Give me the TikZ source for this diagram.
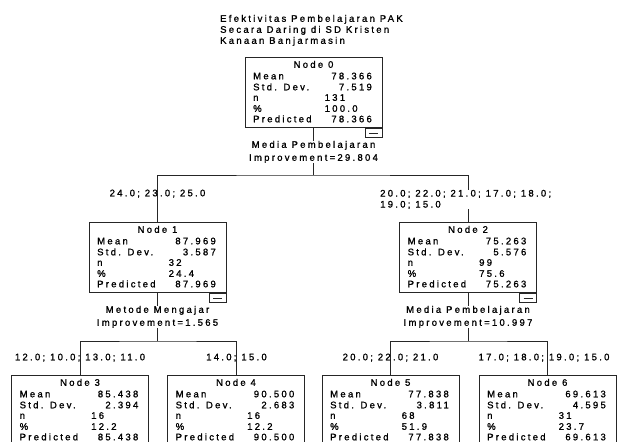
\documentclass[tikz,border=0pt]{standalone}
\usepackage{fontspec}
\setmainfont{Liberation Sans}[LetterSpace=24, FakeBold=1.2]
\usetikzlibrary{calc}
\tikzset{
  box/.style={draw=black!85, line width=1pt, minimum width=137pt, minimum height=70pt, inner sep=0pt, anchor=north},
  txt/.style={inner sep=0pt, text height=6.6pt, text depth=0pt, font=\fontsize{9.5}{11}\selectfont},
  lab/.style={inner sep=0pt, font=\fontsize{9.5}{13}\selectfont, align=center},
  minusbox/.style={draw=black!85, line width=0.8pt, minimum width=17pt, minimum height=9pt, inner sep=0pt, anchor=north east, fill=white},
  conn/.style={draw=black!85, line width=1pt},
}
\newcommand{\spssnode}[9]{%
  \node[box] (#1) at (#2,#3) {};
  \node[txt] at ($(#1.north)+(0,7.5)$) {#4};
  \node[txt, anchor=west] at ($(#1.north west)+(8.5,19)$) {Mean};
  \node[txt, anchor=east] at ($(#1.north east)+(-10.5,19)$) {#5};
  \node[txt, anchor=west] at ($(#1.north west)+(8.5,30)$) {Std. Dev.};
  \node[txt, anchor=east] at ($(#1.north east)+(-10.5,30)$) {#6};
  \node[txt, anchor=west] at ($(#1.north west)+(8.5,40.5)$) {n};
  \node[txt, anchor=west] at ($(#1.north west)+(80,40.5)$) {#7};
  \node[txt, anchor=west] at ($(#1.north west)+(8.5,51.5)$) {\%};
  \node[txt, anchor=west] at ($(#1.north west)+(80,51.5)$) {#8};
  \node[txt, anchor=west] at ($(#1.north west)+(8.5,62)$) {Predicted};
  \node[txt, anchor=east] at ($(#1.north east)+(-10.5,62)$) {#9};
  \node[minusbox] (#1m) at (#1.south east) {};
  \draw[line width=0.8pt, black!85] ($(#1m.center)+(-4.5,0)$) -- ++(9,0);
}
\begin{document}
\begin{tikzpicture}[x=1pt,y=-1pt]
\fill[white] (0,0) rectangle (617,441);
\useasboundingbox (0,0) rectangle (617,441);

\node[lab, align=left, anchor=north west, font=\fontsize{9.5}{11}\selectfont] (title) at (220,14.7)
  {Efektivitas Pembelajaran PAK\\Secara Daring di SD Kristen\\Kanaan Banjarmasin};

\spssnode{n0}{313.5}{57}{Node 0}{78.366}{7.519}{131}{100.0}{78.366}
\spssnode{n1}{157.5}{222}{Node 1}{87.969}{3.587}{32}{24.4}{87.969}
\spssnode{n2}{468}{222}{Node 2}{75.263}{5.576}{99}{75.6}{75.263}
\spssnode{n3}{80}{375}{Node 3}{85.438}{2.394}{16}{12.2}{85.438}
\spssnode{n4}{236}{375}{Node 4}{90.500}{2.683}{16}{12.2}{90.500}
\spssnode{n5}{390.5}{375}{Node 5}{77.838}{3.811}{68}{51.9}{77.838}
\spssnode{n6}{547.5}{375}{Node 6}{69.613}{4.595}{31}{23.7}{69.613}

\coordinate (s0) at (313.5,175);
\coordinate (s1) at (157.5,341);
\coordinate (s2) at (468,341);

\draw[conn] (n0.south) -- (s0);
\draw[conn] (n1.north) |- (s0) -| (n2.north);
\draw[conn] (n1.south) -- (s1);
\draw[conn] (n3.north) |- (s1) -| (n4.north);
\draw[conn] (n2.south) -- (s2);
\draw[conn] (n5.north) |- (s2) -| (n6.north);

\node[lab, fill=white, anchor=north] (l0) at (313.5,140.7) {Media Pembelajaran\\Improvement=29.804};
\node[lab, fill=white, anchor=north] (l1) at (157.5,305.7) {Metode Mengajar\\Improvement=1.565};
\node[lab, fill=white, anchor=north] (l2) at (468,305.7) {Media Pembelajaran\\Improvement=10.997};

\node[txt] (b1) at (157.5,193) {24.0; 23.0; 25.0};
\node[lab, align=left, fill=white, anchor=north west, font=\fontsize{9.5}{11}\selectfont] (b2) at (380,189.7)
  {20.0; 22.0; 21.0; 17.0; 18.0;\\19.0; 15.0};
\node[txt] (b3) at (80,357) {12.0; 10.0; 13.0; 11.0};
\node[txt] (b4) at (236.5,357) {14.0; 15.0};
\node[txt] (b5) at (390.5,357) {20.0; 22.0; 21.0};
\node[txt] (b6) at (544,357) {17.0; 18.0; 19.0; 15.0};
\end{tikzpicture}
\end{document}
